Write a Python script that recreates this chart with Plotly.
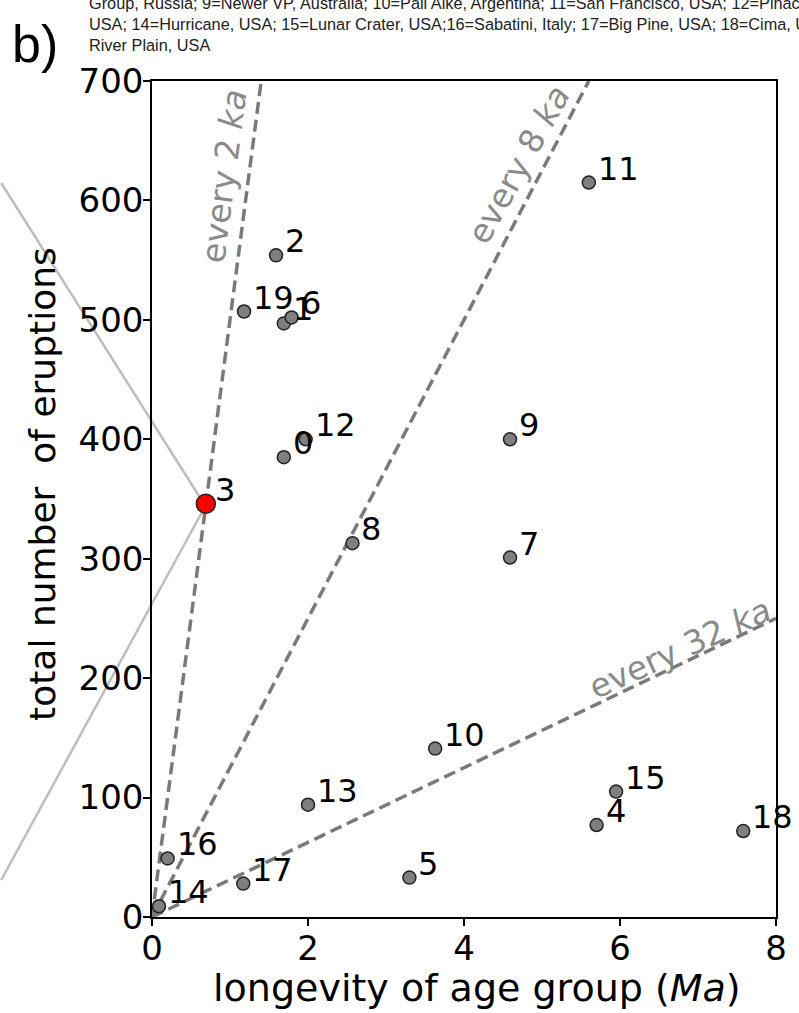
import plotly.graph_objects as go

# ---- data ----
field_ids = [str(i) for i in range(20)]
longevity_ma = [1.69, 1.69, 1.59, 0.69, 5.70, 3.30, 1.79, 4.59, 2.57, 4.59,
                3.63, 5.60, 1.97, 2.00, 0.09, 5.95, 0.20, 1.17, 7.58, 1.18]
total_eruptions = [385, 497, 554, 346, 77, 33, 502, 301, 313, 400,
                   141, 615, 400, 94, 9, 105, 49, 28, 72, 507]
highlight_id = "3"

recurrence_ka = [2, 8, 32]
recurrence_labels = ["every 2 <i>ka</i>", "every 8 <i>ka</i>", "every 32 <i>ka</i>"]

x_ticks = [0, 2, 4, 6, 8]
y_ticks = [0, 100, 200, 300, 400, 500, 600, 700]
x_range = [0, 8]
y_range = [0, 700]

caption_lines = [
    "Group, Russia; 9=Newer VP, Australia; 10=Pali Aike, Argentina; 11=San Francisco, USA; 12=Pinacate, Mexico; 13=",
    "USA; 14=Hurricane, USA; 15=Lunar Crater, USA;16=Sabatini, Italy; 17=Big Pine, USA; 18=Cima, USA; 19=Snake",
    "River Plain, USA",
]

# ---- figure geometry ----
W, H = 799, 1013
L, R, T, B = 152, 18, 81, 96
PW, PH = W - L - R, H - T - B


def px_to_paper(px, py):
    return (px - L) / PW, (H - B - py) / PH


fig = go.Figure()

# recurrence-interval dashed lines
label_pos = [(224, 176, -82.5), (522, 165, -61), (684, 648, -24.5)]
for k, lab, (lx, ly, ang) in zip(recurrence_ka, recurrence_labels, label_pos):
    rate = 1000.0 / k  # eruptions per Ma
    x_end = min(x_range[1], y_range[1] / rate)
    fig.add_trace(go.Scatter(
        x=[0, x_end], y=[0, rate * x_end], mode="lines",
        line=dict(color="#7a7a7a", width=3.5, dash="12px,6px"),
        hoverinfo="skip", showlegend=False, cliponaxis=True))
    ax_, ay_ = px_to_paper(lx, ly)
    fig.add_annotation(x=ax_, y=ay_, xref="paper", yref="paper", text=lab,
                       showarrow=False, textangle=ang,
                       font=dict(family="DejaVu Sans", size=33, color="#8a8a8a"),
                       xanchor="center", yanchor="middle")

# points
norm_x = [x for i, x in zip(field_ids, longevity_ma) if i != highlight_id]
norm_y = [y for i, y in zip(field_ids, total_eruptions) if i != highlight_id]
hi_x = [x for i, x in zip(field_ids, longevity_ma) if i == highlight_id]
hi_y = [y for i, y in zip(field_ids, total_eruptions) if i == highlight_id]

fig.add_trace(go.Scatter(
    x=norm_x, y=norm_y, mode="markers",
    marker=dict(size=13, color="#7f7f7f", line=dict(color="#222222", width=1.5)),
    showlegend=False, cliponaxis=False))
fig.add_trace(go.Scatter(
    x=hi_x, y=hi_y, mode="markers",
    marker=dict(size=19, color="#ff0000", line=dict(color="#222222", width=1.5)),
    showlegend=False, cliponaxis=False))

# point labels
for i, x, y in zip(field_ids, longevity_ma, total_eruptions):
    fig.add_annotation(x=x, y=y, text=i, showarrow=False,
                       xanchor="left", yanchor="bottom", xshift=7, yshift=-7,
                       font=dict(family="DejaVu Sans", size=32, color="black"))

# connector lines towards panel a)
conn = [((0, 183), (200, 497)), ((203, 511), (0, 880))]
for (p0, p1) in conn:
    x0, y0 = px_to_paper(*p0)
    x1, y1 = px_to_paper(*p1)
    fig.add_shape(type="line", xref="paper", yref="paper",
                  x0=x0, y0=y0, x1=x1, y1=y1,
                  line=dict(color="#bdbdbd", width=2.5), layer="below")

# axis titles
tx, ty = px_to_paper(480, 988)
fig.add_annotation(x=tx, y=ty, xref="paper", yref="paper",
                   text="longevity of age group (<i>Ma</i>)", showarrow=False,
                   xanchor="center", yanchor="middle",
                   font=dict(family="DejaVu Sans", size=38, color="black"))
tx, ty = px_to_paper(41, 484)
fig.add_annotation(x=tx, y=ty, xref="paper", yref="paper",
                   text="total number  of eruptions", showarrow=False, textangle=-90,
                   xanchor="center", yanchor="middle",
                   font=dict(family="DejaVu Sans", size=36, color="black"))

# caption + panel letter
cx, cy = px_to_paper(86, 56)
fig.add_annotation(x=cx, y=cy, xref="paper", yref="paper",
                   text="<br>".join(caption_lines), showarrow=False, align="left",
                   xanchor="left", yanchor="bottom",
                   font=dict(family="Liberation Sans", size=16.3, color="#222222"))
bx, by = px_to_paper(9, 44)
fig.add_annotation(x=bx, y=by, xref="paper", yref="paper", text="b)",
                   showarrow=False, xanchor="left", yanchor="middle",
                   font=dict(family="Liberation Sans", size=52, color="black"))

axis_common = dict(showline=True, linecolor="black", linewidth=1.5, mirror=True,
                   ticks="outside", ticklen=7, tickwidth=1.5, tickcolor="black",
                   showgrid=False, zeroline=False,
                   tickfont=dict(family="DejaVu Sans", size=34, color="black"))
fig.update_xaxes(range=x_range, tickvals=x_ticks, ticktext=[str(v) for v in x_ticks],
                 ticklabelstandoff=-7, **axis_common)
fig.update_yaxes(range=y_range, tickvals=y_ticks, ticktext=[str(v) for v in y_ticks],
                 ticklabelstandoff=-7, **axis_common)

fig.update_layout(width=W, height=H, margin=dict(l=L, r=R, t=T, b=B),
                  paper_bgcolor="white", plot_bgcolor="rgba(0,0,0,0)",
                  showlegend=False)

fig.write_html("out.html")
